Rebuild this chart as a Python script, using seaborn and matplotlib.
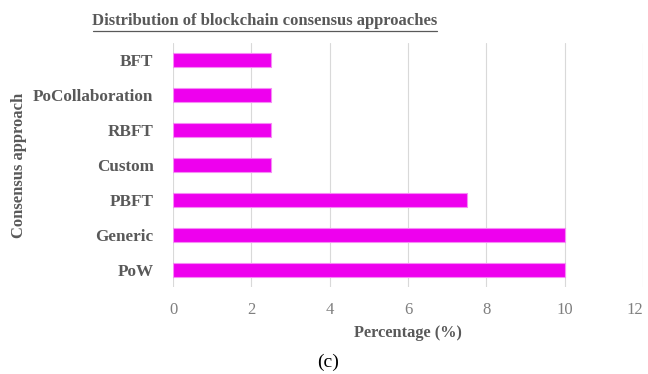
import matplotlib
matplotlib.use("Agg")
import matplotlib.pyplot as plt
import seaborn as sns
import pandas as pd
from matplotlib.lines import Line2D

categories = ["BFT", "PoCollaboration", "RBFT", "Custom", "PBFT", "Generic", "PoW"]
values = [2.5, 2.5, 2.5, 2.5, 7.5, 10, 10]
xticks = [0, 2, 4, 6, 8, 10, 12]

df = pd.DataFrame({"approach": categories, "pct": values})

sns.set_theme(style="white")
plt.rcParams["font.family"] = ["Liberation Serif", "DejaVu Serif"]

fig = plt.figure(figsize=(6.48, 3.74), dpi=100)
ax = fig.add_axes([173/648, 1-287/374, 470/648, 244/374])

sns.barplot(data=df, y="approach", x="pct", orient="h", ax=ax,
            color="#EE00EE", width=0.4, edgecolor="#F58CF5", linewidth=0.8,
            saturation=1)

ax.set_xlim(0, 12)
ax.set_xticks(xticks)
ax.set_xticklabels([str(t) for t in xticks], color="#7F7F7F", fontsize=12)
ax.tick_params(axis="x", length=0, pad=11)
ax.tick_params(axis="y", length=0, pad=14)
xl = ax.get_xticklabels()
xl[-1].set_ha("right")
for lab in ax.get_yticklabels():
    lab.set_fontweight("bold")
    lab.set_color("#595959")
    lab.set_fontsize(12.3)
ax.grid(axis="x", color="#D9D9D9", linewidth=0.8)
ax.set_axisbelow(True)
for s in ax.spines.values():
    s.set_visible(False)

ax.set_xlabel("Percentage (%)", fontweight="bold", color="#595959", fontsize=11.8)
ax.xaxis.set_label_coords(0.5, -(333-287)/244, transform=ax.transAxes)
ax.xaxis.label.set_va("center")
ax.set_ylabel("Consensus approach", fontweight="bold", color="#595959", fontsize=12)
ax.yaxis.set_label_coords((19-173)/470, 0.5)
ax.yaxis.label.set_va("center")

fig.text(265/648, 1-21/374, "Distribution of blockchain consensus approaches",
         ha="center", va="center", fontsize=12, fontweight="bold", color="#595959")
fig.add_artist(Line2D([93/648, 437/648], [1-31/374, 1-31/374], color="#595959", linewidth=0.9,
                      transform=fig.transFigure))

fig.text(328/648, 1-362/374, "(c)", ha="center", va="center", fontsize=14, color="black")

fig.savefig("out.png", dpi=100)
